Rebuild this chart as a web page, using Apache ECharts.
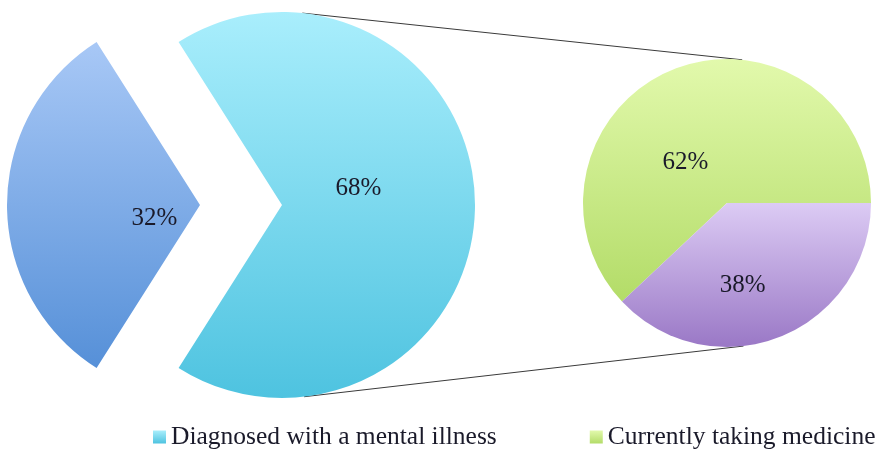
<!DOCTYPE html>
<html>
<head>
<meta charset="utf-8">
<title>Pie of pie</title>
<script src="https://cdn.jsdelivr.net/npm/echarts@6/dist/echarts.min.js"></script>
<style>
html, body { margin: 0; padding: 0; background: #fff; }
#main { width: 876px; height: 451px; }
</style>
</head>
<body>
<div id="main"></div>
<script>
// data
var mainNames = ['Diagnosed with a mental illness', 'Not diagnosed'];
var mainValues = [68, 32];
var subNames = ['Currently taking medicine', 'Not taking medicine'];
var subValues = [62, 38];
var legendNames = ['Diagnosed with a mental illness', 'Currently taking medicine'];

// layout of the two pies (px)
var bigCenter = [282, 205], bigR = 193;
var smallCenter = [727, 203], smallR = 144;

function grad(top, bottom) {
  return new echarts.graphic.LinearGradient(0, 0, 0, 1, [
    { offset: 0, color: top },
    { offset: 1, color: bottom }
  ]);
}

var mainColors = [grad('#a9eefc', '#4ec3e0'), grad('#a8c8f6', '#5690d8')];
var subColors = [grad('#e2f9ac', '#b3dc68'), grad('#dccbf4', '#9a78c6')];

// outer tangent lines joining the two circles
function tangents() {
  var dx = smallCenter[0] - bigCenter[0], dy = smallCenter[1] - bigCenter[1];
  var L = Math.sqrt(dx * dx + dy * dy);
  var ux = dx / L, uy = dy / L;
  var s = (bigR - smallR) / L, c = Math.sqrt(1 - s * s);
  var lines = [];
  [-1, 1].forEach(function (sign) {
    var nx = s * ux + sign * c * (-uy);
    var ny = s * uy + sign * c * ux;
    lines.push({
      type: 'line',
      silent: true,
      shape: {
        x1: bigCenter[0] + bigR * nx, y1: bigCenter[1] + bigR * ny,
        x2: smallCenter[0] + smallR * nx, y2: smallCenter[1] + smallR * ny
      },
      style: { stroke: '#3a3a3a', lineWidth: 1 },
      z: 0
    });
  });
  return lines;
}

// put the "other" slice (second one) centred on the left side
var mainTotal = mainValues[0] + mainValues[1];
var mainStart = (180 + 360 * mainValues[0] / mainTotal + 180 * mainValues[1] / mainTotal) % 360;

var labelStyle = {
  show: true,
  position: 'inside',
  formatter: '{c}%',
  fontFamily: 'Liberation Serif',
  fontSize: 25,
  color: '#1a1a2a'
};

var chart = echarts.init(document.getElementById('main'));
chart.setOption({
  animation: false,
  legend: {
    data: legendNames,
    bottom: 1,
    left: 153,
    width: 780,
    padding: 0,
    itemGap: 93,
    itemWidth: 13,
    itemHeight: 13,
    icon: 'rect',
    textStyle: { fontFamily: 'Liberation Serif', fontSize: 25.5, color: '#1a1a2a' }
  },
  graphic: tangents(),
  series: [
    {
      name: 'main',
      type: 'pie',
      center: bigCenter,
      radius: bigR,
      startAngle: mainStart,
      selectedMode: 'single',
      selectedOffset: 82,
      emphasis: { disabled: true },
      label: labelStyle,
      labelLine: { show: false },
      labelLayout: function (p) {
        return p.dataIndex === 0 ? { dx: -23, dy: -17 } : { dx: 54, dy: 13 };
      },
      data: mainValues.map(function (v, i) {
        return {
          name: mainNames[i], value: v, selected: i === 1,
          itemStyle: { color: mainColors[i] },
          select: { itemStyle: { color: mainColors[i] } }
        };
      })
    },
    {
      name: 'sub',
      type: 'pie',
      center: smallCenter,
      radius: smallR,
      startAngle: 360 * subValues[0] / (subValues[0] + subValues[1]),
      emphasis: { disabled: true },
      label: labelStyle,
      labelLine: { show: false },
      labelLayout: function (p) {
        return p.dataIndex === 0 ? { dx: -14, dy: 29 } : { dx: -12, dy: 13 };
      },
      data: subValues.map(function (v, i) {
        return { name: subNames[i], value: v, itemStyle: { color: subColors[i] } };
      })
    }
  ]
});
</script>
</body>
</html>
